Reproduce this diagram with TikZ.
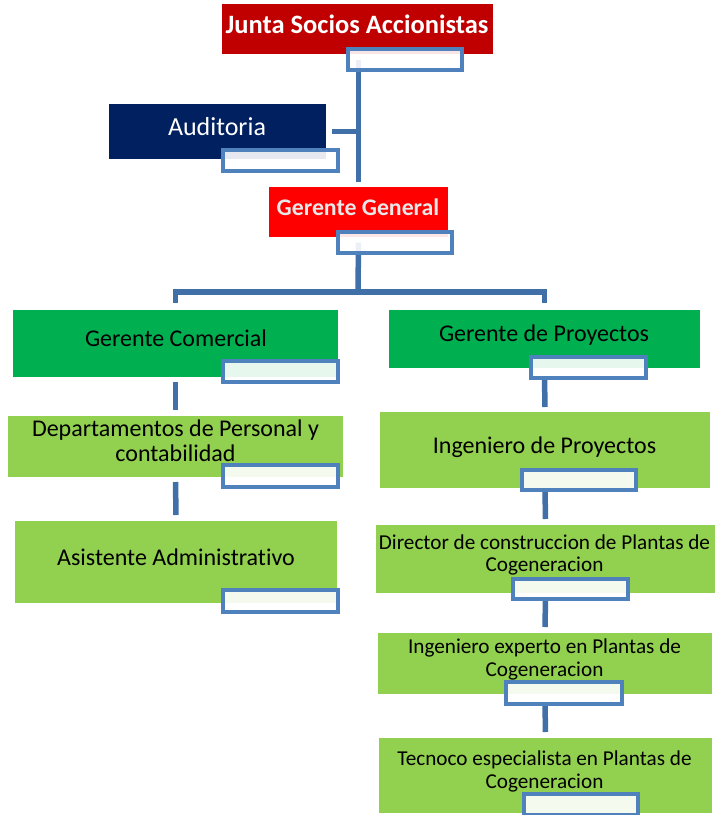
\documentclass[tikz,border=0pt]{standalone}
\usepackage{fontspec}
\setmainfont{Carlito}[Ligatures=NoCommon]
\usetikzlibrary{calc}
\definecolor{juntared}{HTML}{C00000}
\definecolor{audnavy}{HTML}{002060}
\definecolor{ggred}{HTML}{FF0000}
\definecolor{dkgreen}{HTML}{00B050}
\definecolor{ltgreen}{HTML}{92D050}
\definecolor{subblue}{HTML}{4F81BD}
\definecolor{linkblue}{HTML}{4170A8}
\definecolor{ggtext}{HTML}{E8E8E8}
\pgfdeclarelayer{paper}
\pgfdeclarelayer{boxes}
\pgfdeclarelayer{links}
\pgfsetlayers{paper,boxes,links,main}
\tikzset{
  box/.style={rectangle, inner sep=0pt, outer sep=0pt, draw=none},
  subbox/.style={rectangle, inner sep=0pt, outer sep=0pt, draw=subblue,
    line width=3.6pt, fill=white, fill opacity=0.9, minimum width=115.5pt, minimum height=21.5pt},
  conn/.style={draw=linkblue, line width=5.5pt, line cap=butt, line join=miter},
  txt/.style={inner sep=0pt, outer sep=0pt, anchor=base, align=center},
  bigfont/.style={font=\fontsize{24}{25}\selectfont},
  smallfont/.style={font=\fontsize{21.2}{22.6}\selectfont},
}
\begin{document}
\begin{tikzpicture}[x=1pt, y=-1pt]
\clip (0,0) rectangle (716,815);
\begin{pgfonlayer}{paper}
\fill[white] (0,0) rectangle (716,815);
\end{pgfonlayer}

% coloured position boxes
\begin{pgfonlayer}{boxes}
\node[box, fill=juntared, minimum width=271pt, minimum height=50pt] (junta) at (357.5,29) {};
\node[box, fill=audnavy, minimum width=217pt, minimum height=55pt] (aud) at (217.5,131.5) {};
\node[box, fill=ggred, minimum width=179pt, minimum height=50pt] (gg) at (358.5,212) {};
\node[box, fill=dkgreen, minimum width=325pt, minimum height=67pt] (gc) at (175.5,343.5) {};
\node[box, fill=ltgreen, minimum width=335pt, minimum height=61pt] (dept) at (175.5,446.5) {};
\node[box, fill=ltgreen, minimum width=322pt, minimum height=82pt] (asist) at (176,562) {};
\node[box, fill=dkgreen, minimum width=311pt, minimum height=58pt] (gp) at (544.5,339) {};
\node[box, fill=ltgreen, minimum width=330pt, minimum height=76pt] (ip) at (545,450) {};
\node[box, fill=ltgreen, minimum width=339pt, minimum height=68pt] (dir) at (545.5,559) {};
\node[box, fill=ltgreen, minimum width=334pt, minimum height=61pt] (ie) at (545,663.5) {};
\node[box, fill=ltgreen, minimum width=333pt, minimum height=75pt] (tec) at (545.5,775.5) {};
\end{pgfonlayer}

% name plates
\node[subbox, minimum width=114.5pt] (juntaS) at (405,59.5) {};
\node[subbox] (audS) at (280.5,160.5) {};
\node[subbox, minimum width=114.5pt] (ggS) at (395,242.5) {};
\node[subbox] (gcS) at (280.5,371.5) {};
\node[subbox, minimum height=22.5pt] (deptS) at (280.5,476) {};
\node[subbox, minimum height=22.5pt] (asistS) at (280.5,601) {};
\node[subbox] (gpS) at (588.5,367.5) {};
\node[subbox, minimum width=114.5pt, minimum height=20.5pt] (ipS) at (579,480) {};
\node[subbox, minimum height=20.5pt] (dirS) at (570.5,589) {};
\node[subbox, minimum width=116.5pt, minimum height=22.5pt] (ieS) at (564,693) {};
\node[subbox, minimum width=114.5pt] (tecS) at (581,804.5) {};

% labels (multi-line labels sit on the baseline of their last line)
\node[txt, text=white, font=\bfseries\fontsize{26.5}{28}\selectfont] (juntaT) at (357,33) {Junta Socios Accionistas};
\node[txt, text=white, font=\fontsize{26}{28}\selectfont] (audT) at (217,135) {Auditoria};
\node[txt, text=ggtext, font=\bfseries\fontsize{23.8}{25}\selectfont] (ggT) at (358,215) {Gerente General};
\node[txt, bigfont] (gcT) at (176,346) {Gerente Comercial};
\node[txt, bigfont] (deptT) at (175.5,461.7) {Departamentos de Personal y\\contabilidad};
\node[txt, bigfont] (asistT) at (176,565) {Asistente Administrativo};
\node[txt, bigfont] (gpT) at (544,341.7) {Gerente de Proyectos};
\node[txt, bigfont] (ipT) at (544.5,453.3) {Ingeniero de Proyectos};
\node[txt, smallfont] (dirT) at (544.5,571.7) {Director de construccion de Plantas de\\Cogeneracion};
\node[txt, smallfont] (ieT) at (544.5,676) {Ingeniero experto en Plantas de\\Cogeneracion};
\node[txt, smallfont] (tecT) at (544.5,788.3) {Tecnoco especialista en Plantas de\\Cogeneracion};

% reporting lines
\coordinate (bus) at (358,292);
\begin{pgfonlayer}{links}
\draw[conn] (gg.north |- juntaS.center) -- ([yshift=5pt]gg.north);
\draw[conn] ([xshift=6pt]aud.east) -- (aud.east -| gg.north);
\draw[conn] (gg.south |- ggS.center) -- (bus);
\draw[conn] ([yshift=7pt]gc.north) -- (gc.north |- bus) -- (gp.north |- bus) -- ([yshift=7pt]gp.north);
\draw[conn] (gc.south |- gcS.south) -- ([yshift=6pt]dept.north);
\draw[conn] ([yshift=-5pt]dept.south) -- ([yshift=6pt]asist.north);
\draw[conn] (gp.south |- gpS.south) -- ([yshift=5pt]ip.north);
\draw[conn] (ip.south |- ipS.south) -- ([yshift=6pt]dir.north);
\draw[conn] (dir.south |- dirS.south) -- ([yshift=6pt]ie.north);
\draw[conn] (ie.south |- ieS.south) -- ([yshift=6pt]tec.north);
\end{pgfonlayer}
\end{tikzpicture}
\end{document}
